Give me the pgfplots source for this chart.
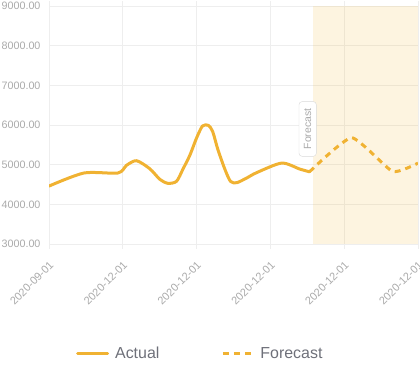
\documentclass[border=0pt]{standalone}
\usepackage{fontspec}
\setmainfont{Liberation Sans}
\usepackage{pgfplots}
\pgfplotsset{compat=1.18}
\definecolor{lineC}{RGB}{240,178,50}
\definecolor{gridC}{RGB}{238,238,238}
\definecolor{tickC}{RGB}{170,170,170}
\definecolor{legC}{RGB}{110,112,121}
\begin{document}
\begin{tikzpicture}
\useasboundingbox (0,0) rectangle (420bp,370bp);
\begin{axis}[
  at={(49bp,126bp)}, anchor=south west,
  scale only axis, width=369bp, height=238bp,
  xmin=0, xmax=5, ymin=3000, ymax=9000,
  xtick={0,1,2,3,4,5},
  xticklabels={2020-09-01,2020-12-01,2020-12-01,2020-12-01,2020-12-01,2020-12-01},
  ytick={3000,4000,5000,6000,7000,8000,9000},
  axis line style={draw=none},
  xmajorgrids, ymajorgrids,
  grid style={gridC, line width=0.8bp},
  tick align=outside, major tick length=5bp,
  xtick style={draw=gridC, line width=0.8bp},
  ytick style={draw=none},
  /pgf/number format/assume math mode=true,
  yticklabel style={font=\fontsize{10.8}{12}\selectfont, text=tickC,
    /pgf/number format/.cd, fixed, fixed zerofill, precision=2, 1000 sep={}},
  xticklabel style={font=\fontsize{11}{12}\selectfont, text=tickC, xshift=5bp, yshift=-12bp, rotate=45, anchor=east},
  legend style={at={(0.41,-0.462)}, anchor=center, legend columns=2, draw=none, fill=none,
    font=\fontsize{16}{18}\selectfont, text=legC,
    /tikz/every odd column/.append style={column sep=4bp},
    /tikz/every even column/.append style={column sep=60bp}},
  legend image code/.code={\draw[#1] (0bp,0bp) -- (30bp,0bp);},
]
% forecast shaded region
\addplot[draw=none, fill=lineC, fill opacity=0.15, forget plot] coordinates {(3.573,9000) (5,9000)} \closedcycle;
% Actual
\addplot[lineC, line width=3bp, smooth, tension=0.45, line join=round, line cap=round] coordinates {
(0,4460) (0.474,4790) (0.934,4790) (1.051,4985) (1.187,5100) (1.367,4895) (1.502,4630)
(1.61,4530) (1.728,4580) (1.817,4895) (1.908,5235) (1.999,5670) (2.08,5975) (2.16,5990)
(2.219,5830) (2.287,5390) (2.382,4890) (2.459,4580) (2.544,4545) (2.675,4660) (2.815,4800)
(3.153,5040) (3.397,4890) (3.53,4820)
};
\addlegendentry{Actual}
% Forecast
\addplot[lineC, line width=3bp, dash pattern=on 6bp off 5bp, smooth, tension=0.3] coordinates {
(3.53,4820) (4.10,5680) (4.655,4830) (5.0,5040)
};
\addlegendentry{Forecast}
\node[draw=black!15, fill=white, rounded corners=3bp, rotate=90, inner xsep=7bp, inner ysep=5bp,
  text=tickC, font=\fontsize{10.5}{12}\selectfont] at (axis cs:3.505,5900) {Forecast};
\end{axis}
\end{tikzpicture}
\end{document}
